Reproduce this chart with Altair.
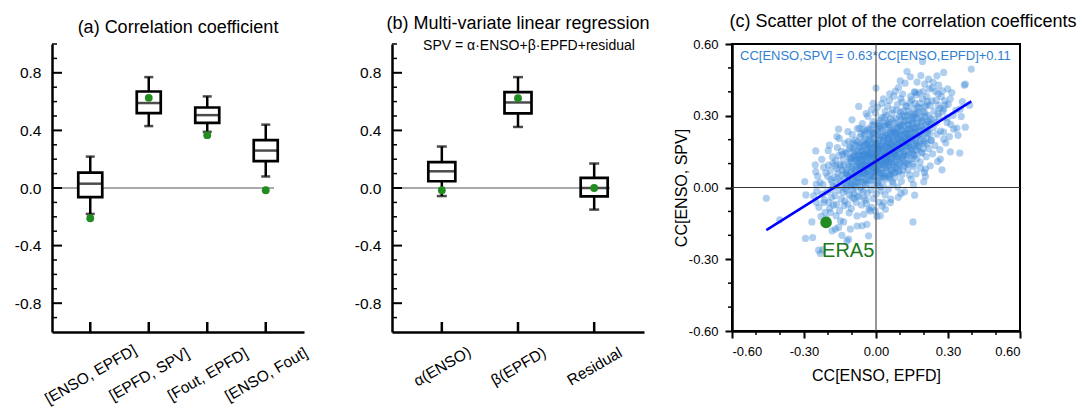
import altair as alt
import pandas as pd

FONT = "Liberation Sans"
MINUS = "replace(datum.label, '\u2212', '-')"

# ---------------- panel (a): correlation coefficients ----------------
a_pairs = ["[ENSO, EPFD]", "[EPFD, SPV]", "[Fout, EPFD]", "[ENSO, Fout]"]
a_whisker_low = [-0.18, 0.43, 0.39, 0.08]
a_q1 = [-0.063, 0.52, 0.452, 0.186]
a_median = [0.03, 0.59, 0.506, 0.26]
a_q3 = [0.107, 0.67, 0.559, 0.332]
a_whisker_high = [0.218, 0.77, 0.636, 0.44]
a_era5 = [-0.21, 0.626, 0.367, -0.016]

# ---------------- panel (b): multi-variate regression ----------------
b_terms = ["α(ENSO)", "β(EPFD)", "Residual"]
b_whisker_low = [-0.056, 0.424, -0.15]
b_q1 = [0.047, 0.518, -0.058]
b_median = [0.116, 0.594, 0.0]
b_q3 = [0.179, 0.666, 0.07]
b_whisker_high = [0.288, 0.77, 0.17]
b_era5 = [-0.016, 0.624, 0.0]

box_major_ticks = [-0.8, -0.4, 0.0, 0.4, 0.8]
box_minor_ticks = [-0.9, -0.7, -0.6, -0.5, -0.3, -0.2, -0.1, 0.1, 0.2, 0.3, 0.5, 0.6, 0.7, 0.9, 1.0]

# ---------------- panel (c): scatter of members ----------------
sc_major_ticks = [-0.6, -0.3, 0.0, 0.3, 0.6]
sc_minor_ticks = [-0.5, -0.4, -0.2, -0.1, 0.1, 0.2, 0.4, 0.5]

members_outer = [
    (-0.457, -0.045), (-0.401, -0.135), (-0.297, 0.025), (-0.292, -0.031), (-0.294, -0.213),
    (-0.264, -0.209), (-0.267, -0.144), (-0.232, -0.276), (-0.239, -0.262), (-0.222, -0.260),
    (-0.251, 0.153), (-0.251, 0.066), (-0.253, 0.095), (-0.194, 0.177), (-0.163, 0.213),
    (-0.156, 0.244), (-0.100, 0.283), (-0.072, 0.339), (0.000, 0.416), (-0.031, -0.202),
    (0.004, -0.121), (0.018, -0.118), (0.154, -0.144), (0.104, -0.025), (0.161, -0.032),
    (0.199, 0.024), (0.275, 0.074), (0.310, 0.149), (0.349, 0.144), (0.337, 0.248),
    (0.397, 0.495), (0.368, 0.428), (0.372, 0.432), (0.390, 0.344), (0.194, 0.527),
    (0.129, 0.485), (0.143, 0.463), (0.101, 0.446), (0.219, 0.453), (0.261, 0.428),
    (0.282, 0.481), (0.254, 0.467), (0.238, 0.440), (0.160, 0.400), (-0.249, 0.014),
    (-0.260, -0.035), (-0.218, -0.063), (-0.190, -0.105), (-0.169, -0.174), (-0.135, -0.144),
    (-0.107, -0.174), (-0.121, -0.223), (-0.079, -0.119), (-0.051, -0.112), (-0.058, -0.160),
    (-0.024, -0.098), (0.025, -0.077), (0.060, -0.063), (0.282, 0.202), (0.324, 0.244),
    (0.296, 0.272), (0.282, 0.328), (0.351, 0.328), (0.268, 0.119), (0.226, 0.091),
    (0.206, 0.077), (-0.156, -0.167), (-0.142, -0.200), (-0.114, -0.216), (-0.183, -0.181),
    (-0.079, -0.161), (-0.038, -0.154), (0.039, -0.091),
    (-0.247, -0.015), (-0.243, 0.047), (-0.238, -0.083), (-0.233, 0.021), (-0.229, -0.121),
    (-0.226, 0.118), (-0.249, -0.062),
]

members_west = [
    (-0.221, 0.012), (-0.215, -0.052), (-0.209, 0.061), (-0.204, -0.018), (-0.198, 0.094),
    (-0.193, -0.087), (-0.188, 0.033), (-0.184, -0.041), (-0.181, 0.128), (-0.178, 0.005),
    (-0.212, -0.104), (-0.201, 0.047), (-0.196, -0.062), (-0.190, 0.071), (-0.186, -0.009),
    (-0.218, 0.085), (-0.207, -0.131), (-0.183, 0.022), (-0.177, -0.074), (-0.199, 0.155),
    (-0.224, -0.028), (-0.179, 0.101),
    (-0.173, 0.043), (-0.171, -0.034), (-0.168, 0.112), (-0.165, -0.071), (-0.163, 0.008),
    (-0.161, 0.167), (-0.158, 0.061), (-0.156, -0.012), (-0.154, 0.134), (-0.152, -0.097),
    (-0.149, 0.027), (-0.147, 0.089), (-0.145, -0.048), (-0.143, 0.151), (-0.141, 0.004),
    (-0.139, 0.072), (-0.137, -0.021), (-0.135, 0.118), (-0.133, -0.076), (-0.131, 0.039),
    (-0.129, 0.185), (-0.127, -0.004), (-0.126, 0.063), (-0.170, 0.091), (-0.166, -0.118),
    (-0.160, 0.036), (-0.153, 0.205), (-0.148, -0.139), (-0.144, 0.052), (-0.138, 0.139),
    (-0.134, 0.017), (-0.130, -0.057), (-0.162, 0.079), (-0.150, 0.096),
    (-0.124, 0.071), (-0.122, -0.013), (-0.121, 0.142), (-0.119, 0.028), (-0.118, -0.069),
    (-0.116, 0.097), (-0.114, 0.193), (-0.113, 0.046), (-0.111, -0.031), (-0.109, 0.119),
    (-0.108, 0.006), (-0.106, 0.168), (-0.104, 0.061), (-0.103, -0.088), (-0.101, 0.083),
    (-0.099, 0.221), (-0.098, 0.035), (-0.096, -0.009), (-0.094, 0.131), (-0.093, 0.052),
    (-0.091, -0.047), (-0.089, 0.107), (-0.088, 0.178), (-0.086, 0.019), (-0.084, 0.074),
    (-0.083, -0.062), (-0.081, 0.153), (-0.079, 0.041), (-0.078, 0.246), (-0.076, 0.093),
    (-0.117, 0.234), (-0.112, -0.106), (-0.107, 0.124), (-0.102, 0.012), (-0.097, 0.187),
    (-0.092, -0.024), (-0.087, 0.066), (-0.082, 0.114), (-0.077, -0.035), (-0.120, 0.057),
    (-0.110, 0.088), (-0.100, -0.041), (-0.090, 0.137), (-0.080, 0.024),
]

members_centre = [
    (-0.074, 0.103), (-0.073, 0.021), (-0.071, 0.176), (-0.070, -0.038), (-0.069, 0.064),
    (-0.067, 0.212), (-0.066, 0.118), (-0.064, 0.002), (-0.063, 0.087), (-0.061, 0.151),
    (-0.060, -0.073), (-0.058, 0.043), (-0.057, 0.267), (-0.055, 0.129), (-0.054, 0.074),
    (-0.052, -0.017), (-0.051, 0.193), (-0.049, 0.098), (-0.048, 0.035), (-0.046, 0.232),
    (-0.045, 0.061), (-0.043, 0.141), (-0.042, -0.052), (-0.040, 0.109), (-0.039, 0.182),
    (-0.037, 0.016), (-0.036, 0.079), (-0.034, 0.298), (-0.033, 0.126), (-0.031, 0.048),
    (-0.030, -0.091), (-0.028, 0.163), (-0.027, 0.094), (-0.026, 0.214), (-0.072, 0.138),
    (-0.068, 0.248), (-0.062, -0.008), (-0.059, 0.116), (-0.056, 0.057), (-0.053, 0.171),
    (-0.050, -0.044), (-0.047, 0.083), (-0.044, 0.201), (-0.041, 0.029), (-0.038, 0.134),
    (-0.035, -0.023), (-0.032, 0.071), (-0.029, 0.247), (-0.065, 0.092), (-0.055, 0.154),
    (-0.045, 0.112), (-0.035, 0.187), (-0.062, 0.224), (-0.040, -0.067),
    (-0.024, 0.134), (-0.023, 0.052), (-0.022, 0.207), (-0.021, -0.009), (-0.019, 0.096),
    (-0.018, 0.168), (-0.017, 0.031), (-0.016, 0.261), (-0.014, 0.117), (-0.013, 0.073),
    (-0.012, -0.046), (-0.011, 0.189), (-0.009, 0.142), (-0.008, 0.011), (-0.007, 0.084),
    (-0.006, 0.228), (-0.004, 0.159), (-0.003, 0.047), (-0.002, 0.311), (-0.001, 0.102),
    (0.001, -0.027), (0.002, 0.176), (0.003, 0.066), (0.004, 0.243), (0.006, 0.128),
    (0.007, 0.009), (0.008, 0.091), (0.009, 0.197), (0.011, 0.154), (0.012, -0.061),
    (0.013, 0.039), (0.014, 0.112), (0.016, 0.281), (0.017, 0.076), (0.018, 0.214),
    (0.019, 0.137), (0.021, -0.014), (0.022, 0.058), (0.023, 0.171), (0.024, 0.351),
    (-0.020, 0.149), (-0.015, 0.222), (-0.010, 0.063), (-0.005, 0.118), (0.000, 0.186),
    (0.005, 0.021), (0.010, 0.256), (0.015, 0.094), (0.020, 0.131), (0.025, 0.044),
    (-0.018, -0.083), (-0.012, 0.276), (-0.006, 0.079), (0.000, 0.139), (0.006, 0.336),
    (0.012, 0.203), (0.018, 0.003), (0.024, 0.108), (-0.003, -0.098), (0.009, 0.164),
]

members_east = [
    (0.026, 0.163), (0.027, 0.078), (0.028, 0.239), (0.029, 0.012), (0.031, 0.124),
    (0.032, 0.196), (0.033, 0.051), (0.034, 0.292), (0.036, 0.147), (0.037, 0.098),
    (0.038, -0.031), (0.039, 0.218), (0.041, 0.171), (0.042, 0.036), (0.043, 0.113),
    (0.044, 0.264), (0.046, 0.184), (0.047, 0.069), (0.048, 0.341), (0.049, 0.131),
    (0.051, -0.007), (0.052, 0.207), (0.053, 0.094), (0.054, 0.272), (0.056, 0.156),
    (0.057, 0.041), (0.058, 0.119), (0.059, 0.228), (0.061, 0.181), (0.062, -0.049),
    (0.063, 0.072), (0.064, 0.141), (0.066, 0.309), (0.067, 0.104), (0.068, 0.246),
    (0.069, 0.166), (0.071, 0.017), (0.072, 0.088), (0.073, 0.199), (0.074, 0.382),
    (0.030, 0.146), (0.035, 0.258), (0.040, 0.084), (0.045, 0.152), (0.050, 0.223),
    (0.055, 0.058), (0.060, 0.287), (0.065, 0.127), (0.070, 0.174), (0.075, 0.061),
    (0.032, -0.063), (0.038, 0.317), (0.044, 0.106), (0.050, 0.169), (0.056, 0.364),
    (0.062, 0.238), (0.068, 0.024), (0.074, 0.139),
    (0.076, 0.194), (0.077, 0.108), (0.079, 0.269), (0.080, 0.043), (0.082, 0.156),
    (0.083, 0.227), (0.085, 0.082), (0.086, 0.323), (0.088, 0.179), (0.089, 0.129),
    (0.091, 0.002), (0.092, 0.249), (0.094, 0.201), (0.095, 0.067), (0.097, 0.144),
    (0.098, 0.296), (0.100, 0.214), (0.101, 0.101), (0.103, 0.372), (0.104, 0.162),
    (0.106, 0.026), (0.107, 0.238), (0.109, 0.124), (0.110, 0.303), (0.112, 0.187),
    (0.113, 0.073), (0.115, 0.151), (0.116, 0.259), (0.118, 0.212), (0.119, -0.018),
    (0.121, 0.103), (0.122, 0.172), (0.124, 0.341), (0.078, 0.137), (0.084, 0.288),
    (0.090, 0.095), (0.096, 0.184), (0.102, 0.257), (0.108, 0.054), (0.114, 0.319),
    (0.120, 0.138), (0.125, 0.206), (0.081, 0.403), (0.087, 0.221), (0.093, -0.041),
    (0.099, 0.119), (0.105, 0.194), (0.111, 0.391), (0.117, 0.089), (0.123, 0.233),
]

members_far_east = [
    (0.127, 0.226), (0.129, 0.139), (0.131, 0.301), (0.133, 0.074), (0.135, 0.188),
    (0.137, 0.259), (0.139, 0.113), (0.141, 0.354), (0.143, 0.211), (0.145, 0.161),
    (0.147, 0.034), (0.149, 0.281), (0.151, 0.233), (0.153, 0.098), (0.155, 0.176),
    (0.157, 0.329), (0.159, 0.246), (0.161, 0.132), (0.163, 0.398), (0.165, 0.194),
    (0.167, 0.057), (0.169, 0.269), (0.171, 0.157), (0.173, 0.337), (0.128, 0.176),
    (0.134, 0.318), (0.140, 0.052), (0.146, 0.204), (0.152, 0.293), (0.158, 0.087),
    (0.164, 0.248), (0.170, 0.121), (0.174, 0.218), (0.132, 0.243), (0.144, 0.381),
    (0.156, 0.012), (0.162, 0.309), (0.168, 0.183), (0.136, 0.147), (0.150, 0.266),
    (0.177, 0.257), (0.179, 0.171), (0.182, 0.333), (0.184, 0.106), (0.187, 0.219),
    (0.189, 0.291), (0.192, 0.144), (0.194, 0.371), (0.197, 0.242), (0.199, 0.193),
    (0.202, 0.063), (0.204, 0.311), (0.207, 0.264), (0.209, 0.129), (0.212, 0.207),
    (0.214, 0.359), (0.217, 0.277), (0.219, 0.162), (0.222, 0.412), (0.224, 0.226),
    (0.180, 0.396), (0.186, 0.081), (0.191, 0.273), (0.196, 0.318), (0.201, 0.185),
    (0.206, 0.047), (0.211, 0.344), (0.216, 0.238),
    (0.227, 0.289), (0.230, 0.198), (0.233, 0.362), (0.236, 0.141), (0.239, 0.251),
    (0.242, 0.319), (0.245, 0.176), (0.248, 0.402), (0.251, 0.272), (0.254, 0.223),
    (0.257, 0.109), (0.260, 0.343), (0.263, 0.297), (0.266, 0.158), (0.269, 0.236),
    (0.272, 0.381), (0.231, 0.264), (0.258, 0.309),
    (0.278, 0.318), (0.282, 0.232), (0.286, 0.362), (0.291, 0.187), (0.296, 0.291),
    (0.301, 0.348), (0.306, 0.213), (0.311, 0.264), (0.316, 0.397), (0.321, 0.302),
    (0.333, 0.323), (0.342, 0.218), (0.355, 0.297), (0.360, 0.359), (0.372, 0.252),
]

members_core = [
    (-0.118, 0.052), (-0.109, 0.021), (-0.097, 0.077), (-0.092, 0.148), (-0.085, 0.003),
    (-0.081, 0.089), (-0.074, 0.041), (-0.071, 0.122), (-0.066, 0.169), (-0.063, 0.026),
    (-0.058, 0.095), (-0.054, 0.137), (-0.049, 0.061), (-0.046, 0.178), (-0.043, 0.012),
    (-0.039, 0.104), (-0.036, 0.149), (-0.033, 0.067), (-0.029, 0.198), (-0.026, 0.031),
    (-0.023, 0.119), (-0.019, 0.163), (-0.016, 0.084), (-0.013, 0.231), (-0.009, 0.047),
    (-0.006, 0.139), (-0.003, 0.182), (0.001, 0.073), (0.004, 0.114), (0.007, 0.219),
    (0.011, 0.029), (0.014, 0.161), (0.017, 0.098), (0.021, 0.247), (0.024, 0.136),
    (0.027, 0.059), (0.031, 0.192), (0.034, 0.117), (0.037, 0.171), (0.041, 0.229),
    (0.044, 0.083), (0.047, 0.143), (0.051, 0.262), (0.054, 0.109), (0.057, 0.187),
    (0.061, 0.052), (0.064, 0.214), (0.067, 0.151), (0.071, 0.279), (0.074, 0.097),
    (0.077, 0.168), (0.081, 0.231), (0.084, 0.128), (0.087, 0.253), (0.091, 0.176),
    (0.094, 0.071), (0.097, 0.209), (0.101, 0.147), (0.104, 0.284), (0.107, 0.191),
    (0.111, 0.116), (0.114, 0.238), (0.117, 0.169), (0.121, 0.297), (0.124, 0.203),
    (0.127, 0.132), (0.131, 0.264), (0.134, 0.219), (0.137, 0.176), (0.141, 0.308),
    (0.144, 0.247), (0.147, 0.158), (0.151, 0.204), (0.154, 0.271), (0.157, 0.137),
    (0.161, 0.229), (0.164, 0.291), (0.167, 0.211), (0.171, 0.252), (0.174, 0.172),
    (0.178, 0.313), (0.183, 0.236), (0.188, 0.194), (0.193, 0.281), (0.198, 0.217),
    (0.203, 0.338), (0.208, 0.249), (0.213, 0.183), (0.218, 0.302), (0.223, 0.264),
    (-0.104, 0.109), (-0.088, 0.046), (-0.069, 0.083), (-0.052, 0.022), (-0.041, 0.157),
    (-0.024, 0.092), (-0.011, 0.126), (0.003, 0.149), (0.012, 0.064), (0.026, 0.106),
    (0.036, 0.208), (0.048, 0.124), (0.058, 0.166), (0.069, 0.073), (0.079, 0.142),
    (0.089, 0.204), (0.099, 0.093), (0.109, 0.162), (0.119, 0.224), (0.129, 0.189),
    (0.139, 0.243), (0.149, 0.121), (0.159, 0.184), (0.169, 0.308), (0.179, 0.219),
    (0.189, 0.147), (-0.062, 0.133), (-0.031, 0.141), (0.008, 0.184), (0.042, 0.271),
    (0.072, 0.226), (0.102, 0.316), (0.132, 0.097), (0.162, 0.352), (0.192, 0.238),
    (-0.015, 0.043), (0.018, 0.257), (0.052, 0.046), (0.086, 0.118), (0.116, 0.273),
]

members_upper = [
    (-0.095, 0.162), (-0.087, 0.198), (-0.079, 0.131), (-0.072, 0.057), (-0.064, 0.184),
    (-0.057, 0.112), (-0.049, 0.221), (-0.042, 0.089), (-0.037, 0.241), (-0.028, 0.128),
    (-0.021, 0.179), (-0.014, 0.101), (-0.007, 0.262), (0.002, 0.121), (0.009, 0.232),
    (0.016, 0.171), (0.023, 0.292), (0.029, 0.214), (0.036, 0.131), (0.043, 0.301),
    (0.049, 0.196), (0.056, 0.251), (0.063, 0.178), (0.069, 0.326), (0.076, 0.238),
    (0.083, 0.186), (0.089, 0.347), (0.096, 0.261), (0.103, 0.221), (0.109, 0.357),
    (0.116, 0.196), (0.123, 0.281), (0.129, 0.339), (0.136, 0.282), (0.143, 0.224),
    (0.149, 0.366), (0.156, 0.301), (0.163, 0.232), (0.169, 0.388), (0.176, 0.284),
    (0.183, 0.352), (0.189, 0.256), (0.196, 0.401), (0.203, 0.297), (0.211, 0.381),
    (0.218, 0.276), (0.226, 0.343), (0.234, 0.417), (0.242, 0.286), (0.251, 0.364),
    (0.259, 0.392), (0.267, 0.331), (0.276, 0.404), (0.288, 0.345), (0.299, 0.412),
    (0.309, 0.371),
    (-0.134, 0.094), (-0.127, 0.146), (-0.121, 0.013), (-0.112, 0.162), (-0.106, 0.041),
    (-0.101, 0.124), (-0.093, 0.009), (-0.085, 0.121), (-0.078, 0.191), (-0.069, 0.151),
    (-0.061, 0.061), (-0.053, 0.241), (-0.046, 0.136), (-0.038, 0.056), (-0.031, 0.172),
    (-0.024, 0.238), (-0.017, 0.139), (-0.009, 0.203), (-0.002, 0.067), (0.006, 0.161),
    (0.013, 0.268), (0.021, 0.096), (0.028, 0.181), (0.034, 0.043), (0.041, 0.139),
    (0.049, 0.094), (0.055, 0.201), (0.061, 0.119), (0.068, 0.209), (0.073, 0.151),
    (0.081, 0.064), (0.087, 0.156), (0.093, 0.231), (0.098, 0.169), (0.106, 0.261),
    (0.113, 0.131), (0.121, 0.189), (0.128, 0.101), (0.135, 0.211), (0.142, 0.168),
    (0.152, 0.143), (0.166, 0.157), (0.181, 0.189), (0.197, 0.163), (0.214, 0.227),
    (0.229, 0.198),
    (-0.012, 0.352), (0.031, 0.371), (0.057, 0.392), (0.094, 0.418), (0.121, 0.436),
    (0.171, 0.441), (0.187, 0.468), (0.203, 0.432), (-0.041, 0.309), (-0.019, 0.326),
]

fit_x = [-0.457, 0.397]
fit_y = [-0.178, 0.360]
era5_x = [-0.208]
era5_y = [-0.146]
fit_equation = "CC[ENSO,SPV] = 0.63*CC[ENSO,EPFD]+0.11"

TICK_FS = 15.5


def box_panel(cats, lo, q1, med, q3, hi, era5, title, box_w, cap_w, lab_pad, zero_end, subtitle=None):
    W, H = 252, 288
    df = pd.DataFrame({"cat": cats, "lo": lo, "q1": q1, "med": med, "q3": q3, "hi": hi, "era5": era5})
    xs = alt.Scale(type="point", domain=cats, padding=0.654)
    ys = alt.Scale(domain=[-1, 1], nice=False, zero=False)
    xax = alt.Axis(title=None, labelAngle=-30, labelAlign="center", labelBaseline="middle",
                   labelPadding=lab_pad, ticks=False, tickSize=0, domainWidth=2.5,
                   domainColor="black", labelFontSize=TICK_FS, grid=False, labelOverlap=False)
    yax = alt.Axis(title=None, values=box_major_ticks, format=".1f", labelExpr=MINUS,
                   ticks=False, tickSize=0, labelPadding=11, domainWidth=2.5,
                   domainColor="black", labelFontSize=TICK_FS, grid=False)

    def X():
        return alt.X("cat:N", scale=xs, axis=xax, sort=cats)

    def Y(f):
        return alt.Y(f, type="quantitative", scale=ys, axis=yax)

    base = alt.Chart(df)
    zero = alt.Chart(pd.DataFrame({"v": [0.0]})).mark_rule(color="#555555", strokeWidth=1).encode(
        y=Y("v"), x=alt.value(0), x2=alt.value(zero_end))
    whisk = base.mark_rule(color="black", strokeWidth=2.5).encode(x=X(), y=Y("lo"), y2="hi")
    box = base.mark_bar(width=box_w, fill="white", stroke="black", strokeWidth=2.7).encode(
        x=X(), y=Y("q1"), y2="q3")
    median = base.mark_tick(color="black", thickness=2.5, size=box_w).encode(x=X(), y=Y("med"))
    cap_lo = base.mark_tick(color="black", thickness=2.5, size=cap_w).encode(x=X(), y=Y("lo"))
    cap_hi = base.mark_tick(color="black", thickness=2.5, size=cap_w).encode(x=X(), y=Y("hi"))
    dot = base.mark_circle(color="#228B22", size=62, opacity=1).encode(x=X(), y=Y("era5"))
    tmaj = alt.Chart(pd.DataFrame({"v": box_major_ticks})).mark_rule(color="black", strokeWidth=2).encode(
        y=Y("v"), x=alt.value(0), x2=alt.value(10))
    tmin = alt.Chart(pd.DataFrame({"v": box_minor_ticks})).mark_rule(color="black", strokeWidth=1.5).encode(
        y=Y("v"), x=alt.value(0), x2=alt.value(5))
    tx = alt.Chart(pd.DataFrame({"cat": cats})).mark_rule(color="black", strokeWidth=2.5).encode(
        x=X(), y=alt.value(H - 10), y2=alt.value(H))
    layers = [zero, whisk, box, median, cap_lo, cap_hi, dot, tmaj, tmin, tx]
    if subtitle:
        sub = alt.Chart(pd.DataFrame({"t": [subtitle]})).mark_text(
            fontSize=14, align="center", baseline="alphabetic", color="black").encode(
            text="t:N", x=alt.value(137), y=alt.value(6))
        layers.append(sub)
    return alt.layer(*layers).properties(
        width=W, height=H,
        title=alt.TitleParams(title, fontSize=18, fontWeight="normal", anchor="middle",
                              offset=-8, baseline="alphabetic", color="black"))


pa = box_panel(a_pairs, a_whisker_low, a_q1, a_median, a_q3, a_whisker_high, a_era5,
               "(a) Correlation coefficient", 24, 9, 42, 222)
pb = box_panel(b_terms, b_whisker_low, b_q1, b_median, b_q3, b_whisker_high, b_era5,
               "(b) Multi-variate linear regression", 27, 10, 34, 218,
               subtitle="SPV = α·ENSO+β·EPFD+residual")

# ---------------- scatter panel ----------------
W3, H3 = 288, 287
members = (members_outer + members_west + members_centre + members_east
           + members_far_east + members_core + members_upper)
sc = pd.DataFrame(members, columns=["x", "y"])
xs3 = alt.Scale(domain=[-0.6, 0.6], nice=False, zero=False)
ys3 = alt.Scale(domain=[-0.6, 0.6], nice=False, zero=False)
xax3 = alt.Axis(title="CC[ENSO, EPFD]", values=sc_major_ticks, format=".2f", labelExpr=MINUS,
                tickSize=7, tickWidth=2, tickColor="black", labelPadding=7, labelFontSize=13,
                domainWidth=2.5, domainColor="black", grid=False, titleFontSize=16,
                titleFontWeight="normal", titleX=W3 / 2, titleY=44, titleAlign="center",
                titleBaseline="middle")
yax3 = alt.Axis(title="CC[ENSO, SPV]", values=sc_major_ticks, format=".2f", labelExpr=MINUS,
                tickSize=7, tickWidth=2, tickColor="black", labelPadding=7, labelFontSize=13,
                domainWidth=2.5, domainColor="black", grid=False, titleFontSize=16,
                titleFontWeight="normal", titleX=-51, titleY=H3 / 2, titleAngle=270,
                titleAlign="center", titleBaseline="middle")


def X3(f):
    return alt.X(f, type="quantitative", scale=xs3, axis=xax3)


def Y3(f):
    return alt.Y(f, type="quantitative", scale=ys3, axis=yax3)


pts = alt.Chart(sc).mark_circle(size=52, color="#3a86d6", opacity=0.4).encode(x=X3("x"), y=Y3("y"))
fit = alt.Chart(pd.DataFrame({"x": fit_x, "y": fit_y})).mark_line(color="#0000ff", strokeWidth=2.5).encode(
    x=X3("x"), y=Y3("y"))
eq = alt.Chart(pd.DataFrame({"t": [fit_equation]})).mark_text(
    fontSize=13, align="left", baseline="alphabetic", color="#2f80d2").encode(
    text="t:N", x=alt.value(8), y=alt.value(16))
vline = alt.Chart(pd.DataFrame({"v": [0.0]})).mark_rule(color="#333333", strokeWidth=1).encode(x=X3("v"))
hline = alt.Chart(pd.DataFrame({"v": [0.0]})).mark_rule(color="#333333", strokeWidth=1).encode(y=Y3("v"))
era = pd.DataFrame({"x": era5_x, "y": era5_y, "name": ["ERA5"]})
era_pt = alt.Chart(era).mark_circle(size=135, color="#228B22", opacity=1).encode(x=X3("x"), y=Y3("y"))
era_lb = alt.Chart(era).mark_text(fontSize=20, align="left", baseline="alphabetic", color="#1c7a1c",
                                  dx=-4, dy=35).encode(x=X3("x"), y=Y3("y"), text="name:N")
mx = alt.Chart(pd.DataFrame({"v": sc_minor_ticks})).mark_rule(color="black", strokeWidth=1.5).encode(
    x=X3("v"), y=alt.value(H3), y2=alt.value(H3 + 4))
my = alt.Chart(pd.DataFrame({"v": sc_minor_ticks})).mark_rule(color="black", strokeWidth=1.5).encode(
    y=Y3("v"), x=alt.value(-4), x2=alt.value(0))

pc = alt.layer(pts, fit, eq, vline, hline, era_pt, era_lb, mx, my).properties(
    width=W3, height=H3,
    view=alt.ViewBackground(stroke="black", strokeWidth=2),
    title=alt.TitleParams("(c) Scatter plot of the correlation coefficents", fontSize=18,
                          fontWeight="normal", anchor="middle", offset=-7, dx=27,
                          baseline="alphabetic", color="black"))

chart = alt.hconcat(pa, pb, pc, spacing=88, bounds="flush").properties(
    padding={"left": 14, "top": 12, "right": 10, "bottom": 5}
).configure_view(stroke=None).configure_axis(
    labelFont=FONT, titleFont=FONT, labelColor="black", titleColor="black"
).configure_title(font=FONT).configure_text(font=FONT)

chart.save("out.html", embed_options={"renderer": "svg", "actions": False})
